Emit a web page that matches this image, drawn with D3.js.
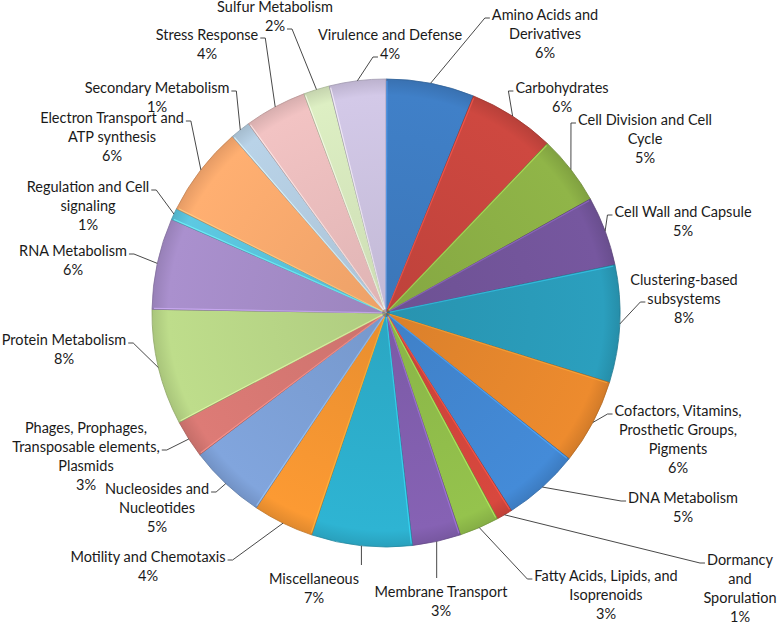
<!DOCTYPE html>
<html>
<head>
<meta charset="utf-8">
<script src="https://cdn.jsdelivr.net/npm/d3@7"></script>
<style>
  html, body { margin: 0; padding: 0; background: #fff; }
  svg text { font-family: Lato, "Noto Sans", sans-serif; font-size: 14.5px; fill: #1a1a1a; }
</style>
</head>
<body>
<svg id="chart" width="778" height="623"></svg>
<script>
// Subsystem category distribution (share of features, %)
const categories = [
    "Amino Acids and Derivatives", "Carbohydrates", "Cell Division and Cell Cycle",
    "Cell Wall and Capsule", "Clustering-based subsystems",
    "Cofactors, Vitamins, Prosthetic Groups, Pigments", "DNA Metabolism",
    "Dormancy and Sporulation", "Fatty Acids, Lipids, and Isoprenoids",
    "Membrane Transport", "Miscellaneous", "Motility and Chemotaxis",
    "Nucleosides and Nucleotides", "Phages, Prophages, Transposable elements, Plasmids",
    "Protein Metabolism", "RNA Metabolism", "Regulation and Cell signaling",
    "Electron Transport and ATP synthesis", "Secondary Metabolism",
    "Stress Response", "Sulfur Metabolism", "Virulence and Defense"
];
const values = [
    6.1, 6.0, 4.8, 4.8, 8.1, 5.9, 5.3, 1.1, 2.75, 3.35, 6.95,
    4.2, 5.3, 2.6, 8.0, 6.3, 0.8, 6.25, 1.4, 4.3, 1.8, 3.9
];
const colors = [
    "#3e7cc2", "#c8463e", "#8cb046", "#73559b", "#2a9bb9", "#e6872d",
    "#4287d2", "#d2463c", "#91be4b", "#825faf", "#2dafcd", "#f59632",
    "#7da0d7", "#d77873", "#b9d787", "#a58cc8", "#5ac3dc", "#faaa6e",
    "#b4cde1", "#ebbebe", "#d7e8be", "#cdc3e1"
];
// how each label is wrapped, as in the original
const labelLines = [
    ["Amino Acids and", "Derivatives"], ["Carbohydrates"], ["Cell Division and Cell", "Cycle"],
    ["Cell Wall and Capsule"], ["Clustering-based", "subsystems"],
    ["Cofactors, Vitamins,", "Prosthetic Groups,", "Pigments"], ["DNA Metabolism"],
    ["Dormancy", "and", "Sporulation"], ["Fatty Acids, Lipids, and", "Isoprenoids"],
    ["Membrane Transport"], ["Miscellaneous"], ["Motility and Chemotaxis"],
    ["Nucleosides and", "Nucleotides"], ["Phages, Prophages,", "Transposable elements,", "Plasmids"],
    ["Protein Metabolism"], ["RNA Metabolism"], ["Regulation and Cell", "signaling"],
    ["Electron Transport and", "ATP synthesis"], ["Secondary Metabolism"],
    ["Stress Response"], ["Sulfur Metabolism"], ["Virulence and Defense"]
];

// label layout: centre x, first line y, side the leader attaches to, line it attaches to
const labelPos = [
    [545, 15, "l", 0], [562, 88, "l", 0], [645, 120, "l", 0], [683, 212, "l", 0],
    [684, 280, "l", 1], [678, 411, "l", 0], [683, 498, "l", 0], [740, 560, "l", 0],
    [606, 576, "l", 0], [441, 592, "t", 0], [314, 579, "t", 0], [148, 557, "r", 0],
    [157, 489, "r", 0], [86, 428, "r", 1], [64, 340, "r", 0], [73, 251, "r", 0],
    [88, 187, "r", 0], [112, 118, "r", 0], [157, 88, "r", 0], [207, 35, "r", 0],
    [275, 7, "r", 1], [390, 35, "l", 1]
];

const width = 778, height = 623;
const cx = 386, cy = 313, radius = 234;
const lineH = 19;

const svg = d3.select("#chart");
const g = svg.append("g").attr("transform", `translate(${cx},${cy})`);

const data = categories.map((c, i) => ({ name: c, value: values[i], color: colors[i], i }));
const total = d3.sum(values);
const pct = v => Math.round(v / total * 100) + "%";

const pie = d3.pie().sort(null).value(d => d.value);
const arc = d3.arc().innerRadius(0).outerRadius(radius);
const arcs = pie(data);

// soft shading per slice, lighter toward the rim like the office style
const defs = svg.append("defs");
arcs.forEach(a => {
    const c = d3.color(a.data.color);
    const grad = defs.append("radialGradient")
        .attr("id", "sl" + a.index)
        .attr("gradientUnits", "userSpaceOnUse")
        .attr("cx", 0).attr("cy", 0).attr("r", radius);
    grad.append("stop").attr("offset", "0%").attr("stop-color", c.darker(0.15));
    grad.append("stop").attr("offset", "93%").attr("stop-color", c.brighter(0.08));
    grad.append("stop").attr("offset", "100%").attr("stop-color", c.darker(0.25));
});

g.selectAll("path.slice")
    .data(arcs)
    .join("path")
    .attr("class", "slice")
    .attr("d", arc)
    .attr("fill", d => `url(#sl${d.index})`)
    .attr("stroke", d => d3.color(d.data.color).darker(0.7))
    .attr("stroke-width", 0.8);

// highlight edge along the start of each slice
const edge = d3.arc().innerRadius(2).outerRadius(radius - 1.5);
g.selectAll("path.hl")
    .data(arcs)
    .join("path")
    .attr("class", "hl")
    .attr("d", d => {
        const a = d.startAngle + 0.004;
        return `M${Math.sin(a) * 4},${-Math.cos(a) * 4}L${Math.sin(a) * (radius - 2)},${-Math.cos(a) * (radius - 2)}`;
    })
    .attr("stroke", d => d3.color(d.data.color).brighter(0.7))
    .attr("stroke-opacity", 0.7)
    .attr("stroke-width", 1.2)
    .attr("fill", "none");

// labels + leader lines
const labelG = svg.append("g");
arcs.forEach(a => {
    const [lx, ly, side, attach] = labelPos[a.index];
    const lines = labelLines[a.index].concat([pct(a.data.value)]);
    const lg = labelG.append("g");
    const texts = lines.map((t, k) => lg.append("text")
        .attr("x", lx)
        .attr("y", ly + k * lineH)
        .attr("dy", "0.35em")
        .attr("text-anchor", "middle")
        .text(t));

    const mid = (a.startAngle + a.endAngle) / 2;
    const sx = cx + Math.sin(mid) * radius;
    const sy = cy - Math.cos(mid) * radius;
    let pts;
    if (side === "t") {
        const top = ly - 11;
        pts = [[sx, sy], [sx, top - 3]];
    } else {
        const w = texts[attach].node().getComputedTextLength();
        const y = ly + attach * lineH + 3;
        if (side === "l") {
            const ex = lx - w / 2 - 2;
            pts = [[sx, sy], [ex - 5, y], [ex, y]];
        } else {
            const ex = lx + w / 2 + 2;
            pts = [[sx, sy], [ex + 5, y], [ex, y]];
        }
    }
    labelG.append("path")
        .attr("d", d3.line()(pts))
        .attr("fill", "none")
        .attr("stroke", "#333")
        .attr("stroke-width", 0.9);
});
</script>
</body>
</html>
